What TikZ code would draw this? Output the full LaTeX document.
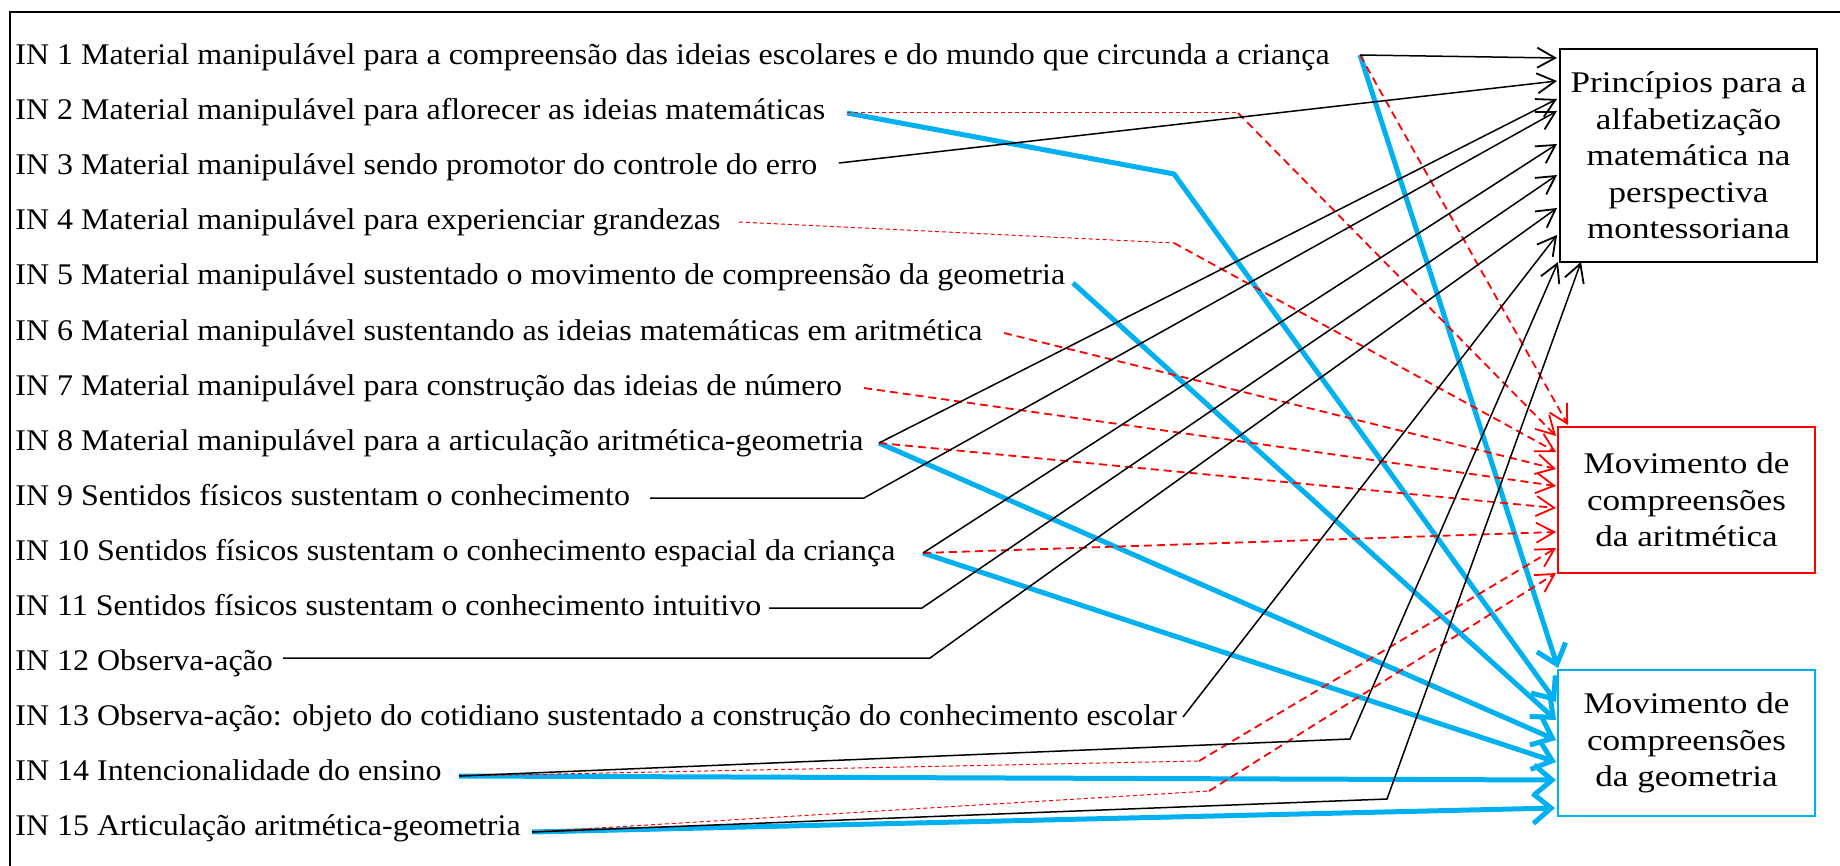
\documentclass[tikz,border=0pt]{standalone}
\usepackage{fontspec}
\setmainfont{Liberation Serif}[FakeStretch=1.066]
\newfontfamily\boxfont{Liberation Serif}[FakeStretch=1.17]
\usetikzlibrary{arrows.meta}
\definecolor{cyanc}{RGB}{0,176,240}
\definecolor{redc}{RGB}{255,0,0}
\begin{document}
\begin{tikzpicture}[x=0.5pt,y=-0.5pt,
  txt/.style={font=\fontsize{15}{18}\selectfont, anchor=base west, inner sep=0pt},
  boxn/.style={draw, line width=1pt, align=center, inner sep=0pt, anchor=north west,
     font=\boxfont\fontsize{15}{18.3}\selectfont, minimum width=128.5pt},
  blk/.style={draw=black, line width=0.75pt, -{Straight Barb[length=9pt,width=10pt,line width=0.9pt]}},
  cyn/.style={draw=cyanc, line width=2.5pt, line join=round, -{Straight Barb[length=9pt,width=15pt,line width=2.5pt]}},
  redk/.style={draw=redc, line width=0.9pt, dash pattern=on 4pt off 2.5pt, -{Straight Barb[length=9pt,width=10pt,line width=0.9pt]}},
  redthin/.style={draw=redc, line width=0.5pt, dash pattern=on 2pt off 1.5pt}
]
\useasboundingbox (0,0) rectangle (1840,866);
% frame
\draw[line width=1pt] (10,866) -- (10,12) -- (1840,12);

% texts
\node[txt] (in1)  at (15,65)  {IN 1 Material manipulável para a compreensão das ideias escolares e do mundo que circunda a criança};
\node[txt] (in2)  at (15,120) {IN 2 Material manipulável para aflorecer as ideias matemáticas};
\node[txt] (in3)  at (15,175) {IN 3 Material manipulável sendo promotor do controle do erro};
\node[txt] (in4)  at (15,230) {IN 4 Material manipulável para experienciar grandezas};
\node[txt] (in5)  at (15,285) {IN 5 Material manipulável sustentado o movimento de compreensão da geometria};
\node[txt] (in6)  at (15,340) {IN 6 Material manipulável sustentando as ideias matemáticas em aritmética};
\node[txt] (in7)  at (15,395) {IN 7 Material manipulável para construção das ideias de número};
\node[txt] (in8)  at (15,450) {IN 8 Material manipulável para a articulação aritmética-geometria};
\node[txt] (in9)  at (15,505) {IN 9 Sentidos físicos sustentam o conhecimento};
\node[txt] (in10) at (15,560) {IN 10 Sentidos físicos sustentam o conhecimento espacial da criança};
\node[txt] (in11) at (15,615) {IN 11 Sentidos físicos sustentam o conhecimento intuitivo};
\node[txt] (in12) at (15,670) {IN 12 Observa-ação};
\node[txt] (in13) at (15,725) {IN 13 Observa-ação: objeto do cotidiano sustentado a construção do conhecimento escolar};
\node[txt] (in14) at (15,780) {IN 14 Intencionalidade do ensino};
\node[txt] (in15) at (15,835) {IN 15 Articulação aritmética-geometria};

% boxes
\node[boxn, minimum height=106.5pt] (b1) at (1559,48) {Princípios para a\\alfabetização\\matemática na\\perspectiva\\montessoriana};
\node[boxn, draw=redc, minimum height=73pt] (b2) at (1557,426) {Movimento de\\compreensões\\da aritmética};
\node[boxn, draw=cyanc, minimum height=73pt] (b3) at (1557,669) {Movimento de\\compreensões\\da geometria};

% start points and corners
\coordinate (s1) at (1360,55);
\coordinate (s2) at (847,113);
\coordinate (s3) at (839,163);
\coordinate (s4) at (739,222);
\coordinate (s5) at (1073,283);
\coordinate (s6) at (1004,333);
\coordinate (s7) at (864,388);
\coordinate (s8) at (879,443);
\coordinate (s9) at (650,498);  \coordinate (c9) at (864,498);
\coordinate (s10) at (923,553);
\coordinate (s11) at (769,608); \coordinate (c11) at (922,608);
\coordinate (s12) at (283,658); \coordinate (c12) at (930,658);
\coordinate (s13) at (1183,717);
\coordinate (s14) at (459,776); \coordinate (k14) at (1350,739); \coordinate (r14) at (1199,761);
\coordinate (s15) at (532,832); \coordinate (k15) at (1387,799); \coordinate (r15) at (1209,791);
\coordinate (cy2) at (1174,174);
\coordinate (r2) at (1238,113);
\coordinate (r4) at (1174,243);

% targets box 1
\coordinate (a1) at (1557,58);
\coordinate (a3) at (1557,81);
\coordinate (a8) at (1557,99);
\coordinate (a9) at (1557,111);
\coordinate (a10) at (1557,144);
\coordinate (a11) at (1557,175);
\coordinate (a12) at (1557,208);
\coordinate (a13) at (1557,235);
\coordinate (a14) at (1558,262);
\coordinate (a15) at (1581,262);
% targets box 2
\coordinate (m1) at (1568,425);
\coordinate (m2) at (1556,436);
\coordinate (m4) at (1556,452);
\coordinate (m6) at (1556,469);
\coordinate (m7) at (1556,486);
\coordinate (m8) at (1556,508);
\coordinate (m10) at (1556,532);
\coordinate (m14) at (1556,548);
\coordinate (m15) at (1556,573);
% targets box 3
\coordinate (g1) at (1558,668);
\coordinate (g2) at (1556,702);
\coordinate (g5) at (1556,720);
\coordinate (g8) at (1556,740);
\coordinate (g10) at (1556,762);
\coordinate (g14) at (1556,780);
\coordinate (g15) at (1555,808);

% cyan connectors
\draw[cyn] (s1) -- (g1);
\draw[cyn] (s2) -- (cy2) -- (g2);
\draw[cyn] (s5) -- (g5);
\draw[cyn] (s8) -- (g8);
\draw[cyn] (s10) -- (g10);
\draw[cyn] (s14) -- (g14);
\draw[cyn] (s15) -- (g15);

% red connectors
\draw[redk] (s1) -- (m1);
\draw[redthin] (s2) -- (r2);
\draw[redk] (r2) -- (m2);
\draw[redthin] (s4) -- (r4);
\draw[redk] (r4) -- (m4);
\draw[redk] (s6) -- (m6);
\draw[redk] (s7) -- (m7);
\draw[redk] (s8) -- (m8);
\draw[redk] (s10) -- (m10);
\draw[redthin] (s14) -- (r14);
\draw[redk] (r14) -- (m14);
\draw[redthin] (s15) -- (r15);
\draw[redk] (r15) -- (m15);

% black connectors
\draw[blk] (s1) -- (a1);
\draw[blk] (s3) -- (a3);
\draw[blk] (s8) -- (a8);
\draw[blk] (s9) -- (c9) -- (a9);
\draw[blk] (s10) -- (a10);
\draw[blk] (s11) -- (c11) -- (a11);
\draw[blk] (s12) -- (c12) -- (a12);
\draw[blk] (s13) -- (a13);
\draw[blk] (s14) -- (k14) -- (a14);
\draw[blk] (s15) -- (k15) -- (a15);
\end{tikzpicture}
\end{document}
